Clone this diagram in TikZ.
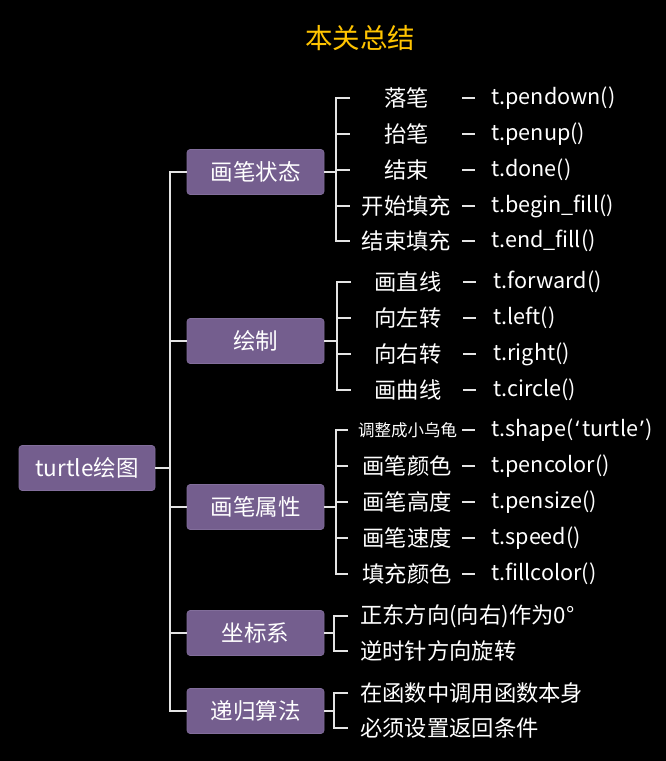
\documentclass[tikz,border=0pt]{standalone}
\usepackage{fontspec}
\setmainfont{Noto Sans CJK SC}
\newfontfamily\latq{Noto Sans}
\definecolor{boxpurple}{RGB}{116,94,142}
\definecolor{boxedge}{RGB}{130,110,155}
\definecolor{linegray}{RGB}{228,228,228}
\definecolor{titlegold}{RGB}{255,196,0}
\begin{document}
\begin{tikzpicture}[x=1pt,y=-1pt,
  box/.style={fill=boxpurple, draw=boxedge, line width=0.6pt, rounded corners=3pt,
    minimum width=137pt, minimum height=45pt, text=white,
    font=\fontsize{22.5}{26}\selectfont, inner sep=0pt},
  leaf/.style={text=white, font=\fontsize{22.3}{26}\selectfont, inner sep=0pt},
  smallleaf/.style={text=white, font=\fontsize{16.5}{19}\selectfont, inner sep=0pt},
  func/.style={text=white, font=\fontsize{21.6}{25}\selectfont, inner sep=0pt, anchor=west},
  conn/.style={draw=linegray, line width=1.4pt},
  dashmark/.style={draw=linegray, line width=1.3pt}
]
\fill[black] (0,0) rectangle (666,761);
\useasboundingbox (0,0) rectangle (666,761);

\node[text=titlegold, font=\fontsize{27.5}{31}\selectfont, inner sep=0pt] (title) at (360,38) {本关总结};

% root and branches
\node[box, minimum width=136pt] (root) at (87,468) {turtle绘图};
\node[box] (b1) at (255.5,172) {画笔状态};
\node[box] (b2) at (255.5,341) {绘制};
\node[box] (b3) at (255.5,507) {画笔属性};
\node[box] (b4) at (255.5,633) {坐标系};
\node[box] (b5) at (255.5,711) {递归算法};

\coordinate (tr) at (170,468);
\coordinate (ttop) at (170,172);
\coordinate (tbot) at (170,711);
\draw[conn] (root.east) -- (tr);
\draw[conn, line cap=rect] (ttop) -- (tbot);
\foreach \b in {b1,b2,b3,b4,b5}{
  \draw[conn] (\b.west) -- (\b.west -| tr);
}

% group 1: 画笔状态
\foreach \y/\t/\f [count=\i] in {98/落笔/t.pendown(),134/抬笔/t.penup(),170/结束/t.done(),206/开始填充/t.begin\_fill(),241/结束填充/t.end\_fill()}{
  \node[leaf] (g1l\i) at (406.5,\y) {\t};
  \node[func] (g1f\i) at (491,\y) {\f};
  \coordinate (g1t\i) at (350,\y);
  \draw[dashmark] (462,\y) -- (475,\y);
}
\coordinate (g1j) at (336,172);
\draw[conn] (b1.east) -- (g1j);
\draw[conn] (g1t1) -- (g1t1 -| g1j) -- (g1t5 -| g1j) -- (g1t5);
\foreach \i in {2,3,4}{\draw[conn] (g1t\i -| g1j) -- (g1t\i);}

% group 2: 绘制
\foreach \y/\t/\f [count=\i] in {282/画直线/t.forward(),318/向左转/t.left(),354/向右转/t.right(),390/画曲线/t.circle()}{
  \node[leaf] (g2l\i) at (408,\y) {\t};
  \node[func] (g2f\i) at (493,\y) {\f};
  \coordinate (g2t\i) at (351,\y);
  \draw[dashmark] (463,\y) -- (476,\y);
}
\coordinate (g2j) at (337,341);
\draw[conn] (b2.east) -- (g2j);
\draw[conn] (g2t1) -- (g2t1 -| g2j) -- (g2t4 -| g2j) -- (g2t4);
\foreach \i in {2,3}{\draw[conn] (g2t\i -| g2j) -- (g2t\i);}

% group 3: 画笔属性
\node[smallleaf] (g3l1) at (407.5,430) {调整成小乌龟};
\foreach \y/\t [count=\i from 2] in {466/画笔颜色,502/画笔高度,538/画笔速度,574/填充颜色}{
  \node[leaf] (g3l\i) at (407,\y) {\t};
}
\foreach \y/\f [count=\i] in {430/t.shape(\kern2pt{\latq ‘}\kern3pt turtle\kern2pt{\latq ’}\kern2pt),466/t.pencolor(),502/t.pensize(),538/t.speed(),574/t.fillcolor()}{
  \node[func] (g3f\i) at (491,\y) {\f};
  \coordinate (g3t\i) at (348,\y);
  \draw[dashmark] (462,\y) -- (475,\y);
}
\coordinate (g3j) at (336,507);
\draw[conn] (b3.east) -- (g3j);
\draw[conn] (g3t1) -- (g3t1 -| g3j) -- (g3t5 -| g3j) -- (g3t5);
\foreach \i in {2,3,4}{\draw[conn] (g3t\i -| g3j) -- (g3t\i);}

% group 4: 坐标系
\node[leaf, anchor=west] (g4l1) at (360,616) {正东方向(向右)作为0°};
\node[leaf, anchor=west] (g4l2) at (360,651) {逆时针方向旋转};
\coordinate (g4j) at (334,633);
\draw[conn] (b4.east) -- (g4j);
\path (g4l1.west) ++(-12,0) coordinate (g4t1) (g4l2.west) ++(-12,0) coordinate (g4t2);
\draw[conn] (g4t1) -- (g4t1 -| g4j) -- (g4t2 -| g4j) -- (g4t2);

% group 5: 递归算法
\node[leaf, anchor=west] (g5l1) at (360,693) {在函数中调用函数本身};
\node[leaf, anchor=west] (g5l2) at (360,728) {必须设置返回条件};
\coordinate (g5j) at (334,711);
\draw[conn] (b5.east) -- (g5j);
\path (g5l1.west) ++(-12,0) coordinate (g5t1) (g5l2.west) ++(-12,0) coordinate (g5t2);
\draw[conn] (g5t1) -- (g5t1 -| g5j) -- (g5t2 -| g5j) -- (g5t2);
\end{tikzpicture}
\end{document}
